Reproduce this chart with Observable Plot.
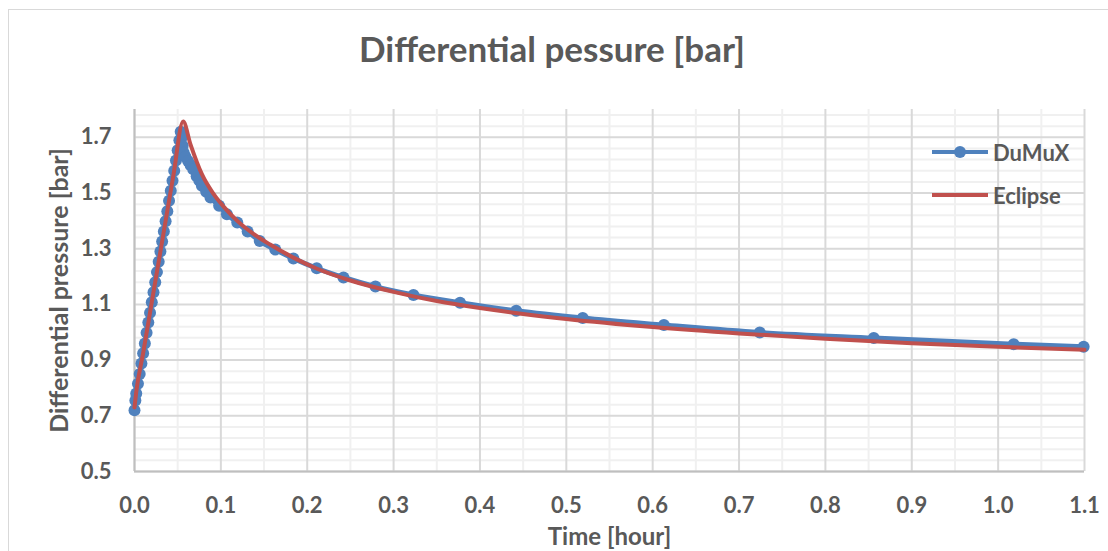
<!DOCTYPE html>
<html>
<head>
<meta charset="utf-8">
<script src="https://cdn.jsdelivr.net/npm/d3@7"></script>
<script src="https://cdn.jsdelivr.net/npm/@observablehq/plot@0.6"></script>
<style>
  html, body { margin: 0; padding: 0; background: #fff; }
  #wrap { position: relative; width: 1108px; height: 551px; overflow: hidden; font-family: Lato, sans-serif; }
  #border { position: absolute; left: 8px; top: 9px; width: 1108px; height: 560px; border: 1px solid #d9d9d9; box-sizing: border-box; }
  #title { position: absolute; left: 0; top: 27px; width: 1104px; text-align: center; font-size: 35px; font-weight: bold; color: #595959; }
  #chart { position: absolute; left: 0; top: 0; }
  #legend { position: absolute; left: 932px; top: 137px; font-size: 22px; font-weight: bold; color: #595959; }
  .item { display: flex; align-items: center; height: 30px; margin-bottom: 13px; }
  .item svg { margin-right: 5px; }
</style>
</head>
<body>
<div id="wrap">
  <div id="border"></div>
  <div id="chart"></div>
  <div id="title"></div>
  <div id="legend"></div>
</div>
<script>
// ---- data ----
const titleText = "Differential pessure [bar]";
const xLabel = "Time [hour]";
const yLabel = "Differential pressure [bar]";
const seriesNames = ["DuMuX", "Eclipse"];
const seriesColors = ["#4f81bd", "#c0504d"];

const dumuxTime = [0, 0.001, 0.002, 0.004, 0.006, 0.008, 0.010, 0.012, 0.014, 0.016, 0.018, 0.020, 0.022, 0.024, 0.026, 0.028, 0.030, 0.032, 0.034, 0.036, 0.038, 0.040, 0.042, 0.044, 0.046, 0.048, 0.050, 0.052, 0.0535,
  0.0548, 0.0558, 0.057, 0.059, 0.062, 0.065, 0.068, 0.072, 0.075, 0.078, 0.083, 0.088, 0.098, 0.107, 0.119, 0.131, 0.145, 0.163, 0.184, 0.211, 0.242, 0.279, 0.323, 0.377, 0.442, 0.519, 0.613, 0.724, 0.856, 1.018, 1.099];
const dumuxPressure = [0.72, 0.755, 0.78, 0.815, 0.85, 0.888, 0.925, 0.96, 0.998, 1.035, 1.07, 1.108, 1.144, 1.18, 1.216, 1.253, 1.29, 1.326, 1.362, 1.399, 1.435, 1.472, 1.508, 1.544, 1.58, 1.617, 1.654, 1.69, 1.72,
  1.70, 1.67, 1.645, 1.63, 1.615, 1.60, 1.585, 1.56, 1.545, 1.526, 1.505, 1.484, 1.454, 1.424, 1.394, 1.362, 1.328, 1.297, 1.265, 1.230, 1.197, 1.164, 1.134, 1.106, 1.077, 1.051, 1.026, 0.999, 0.979, 0.957, 0.948];

const eclipseTime = [0, 0.002, 0.010, 0.020, 0.030, 0.045, 0.0563, 0.0648, 0.078, 0.0917, 0.105, 0.119, 0.137, 0.157, 0.184, 0.21, 0.25, 0.30, 0.35, 0.40, 0.45, 0.50, 0.60, 0.70, 0.80, 0.90, 1.00, 1.10];
const eclipsePressure = [0.73, 0.785, 0.925, 1.108, 1.29, 1.563, 1.757, 1.675, 1.568, 1.496, 1.445, 1.400, 1.355, 1.315, 1.268, 1.230, 1.186, 1.145, 1.112, 1.087, 1.066, 1.048, 1.019, 0.996, 0.977, 0.961, 0.948, 0.937];

const xMajorTicks = [0, 0.1, 0.2, 0.3, 0.4, 0.5, 0.6, 0.7, 0.8, 0.9, 1.0, 1.1];
const xMinorTicks = [0.05, 0.15, 0.25, 0.35, 0.45, 0.55, 0.65, 0.75, 0.85, 0.95, 1.05];
const yMajorTicks = [0.5, 0.7, 0.9, 1.1, 1.3, 1.5, 1.7];
const yMinorTicks = [0.54, 0.58, 0.62, 0.66, 0.74, 0.78, 0.82, 0.86, 0.94, 0.98, 1.02, 1.06, 1.14, 1.18, 1.22, 1.26, 1.34, 1.38, 1.42, 1.46, 1.54, 1.58, 1.62, 1.66, 1.74, 1.78];

// ---- build ----
const dumux = dumuxTime.map((t, i) => ({t, p: dumuxPressure[i]}));
const eclipse = eclipseTime.map((t, i) => ({t, p: eclipsePressure[i]}));

const chart = Plot.plot({
  width: 1108,
  height: 551,
  marginLeft: 134,
  marginRight: 24,
  marginTop: 109,
  marginBottom: 80,
  x: {domain: [0, 1.1]},
  y: {domain: [0.5, 1.8]},
  style: {fontFamily: "Lato, sans-serif", fontSize: "22px", fontWeight: "bold", color: "#595959", background: "transparent", overflow: "visible"},
  marks: [
    Plot.ruleX(xMinorTicks, {stroke: "#f0f0f0", strokeWidth: 2}),
    Plot.ruleY(yMinorTicks, {stroke: "#f0f0f0", strokeWidth: 2}),
    Plot.ruleX(xMajorTicks, {stroke: "#d9d9d9", strokeWidth: 2}),
    Plot.ruleY(yMajorTicks, {stroke: "#d9d9d9", strokeWidth: 2}),
    Plot.ruleX([0], {stroke: "#bfbfbf", strokeWidth: 2}),
    Plot.ruleY([0.5], {stroke: "#bfbfbf", strokeWidth: 2}),
    Plot.axisX({ticks: xMajorTicks, tickSize: 0, tickPadding: 26, tickFormat: d3.format(".1f"), label: null, fill: "#595959"}),
    Plot.axisY({ticks: yMajorTicks, tickSize: 0, tickPadding: 23, tickFormat: d3.format(".1f"), label: null, fill: "#595959"}),
    Plot.line(dumux, {x: "t", y: "p", stroke: seriesColors[0], strokeWidth: 5, curve: "monotone-x"}),
    Plot.dot(dumux, {x: "t", y: "p", r: 6, fill: seriesColors[0]}),
    Plot.line(eclipse, {x: "t", y: "p", stroke: seriesColors[1], strokeWidth: 4, curve: "monotone-x"}),
    Plot.text([xLabel], {frameAnchor: "bottom", lineAnchor: "middle", dy: 66, fontSize: 24, fill: "#595959"}),
    Plot.text([yLabel], {frameAnchor: "left", dx: -75, rotate: -90, textAnchor: "middle", fontSize: 25, fill: "#595959"})
  ]
});
document.getElementById("chart").appendChild(chart);
document.getElementById("title").textContent = titleText;

const legend = document.getElementById("legend");
seriesNames.forEach((name, i) => {
  const row = document.createElement("div");
  row.className = "item";
  const marker = i === 0
    ? `<circle cx="28" cy="7" r="6" fill="${seriesColors[i]}"/>`
    : "";
  row.innerHTML = `<svg width="56" height="14"><line x1="0" x2="56" y1="7" y2="7" stroke="${seriesColors[i]}" stroke-width="4"/>${marker}</svg><span>${name}</span>`;
  legend.appendChild(row);
});
</script>
</body>
</html>
